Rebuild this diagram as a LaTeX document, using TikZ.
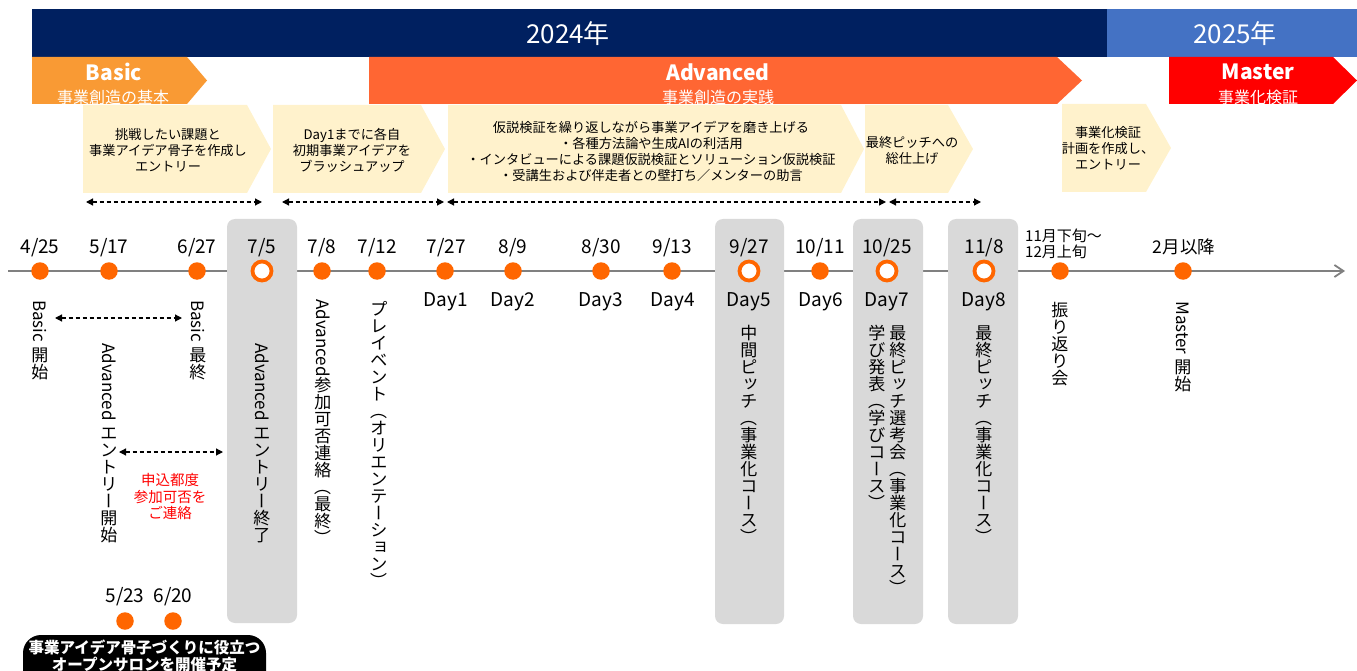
\documentclass[tikz,border=0pt]{standalone}
\usepackage{fontspec}
\setmainfont{Noto Sans CJK JP}
\usepackage{graphicx}
\usetikzlibrary{arrows.meta}
\definecolor{navy}{HTML}{002060}
\definecolor{blu}{HTML}{4472C4}
\definecolor{orgB}{HTML}{F99A34}
\definecolor{orgA}{HTML}{FF6633}
\definecolor{mred}{HTML}{FF0000}
\definecolor{ylw}{HTML}{FFF2CC}
\definecolor{gbox}{HTML}{D9D9D9}
\definecolor{dotc}{HTML}{FF6600}
\definecolor{tlc}{HTML}{808080}
\makeatletter
\def\tate@stop{\tate@stop}
\newcommand\tate[1]{\tate@loop#1\tate@stop}
\def\tate@loop#1{\ifx#1\tate@stop\else\tate@one#1\expandafter\tate@loop\fi}
\def\tate@one#1{%
  \ifx#1ー\tate@side{#1}\else
  \ifx#1（\tate@side{#1}\else
  \ifx#1）\tate@side{#1}\else
  \ifx#1ッ\tate@small{#1}\else
  \ifx#1ョ\tate@small{#1}\else
  \tate@up{#1}\fi\fi\fi\fi\fi}
\def\tate@side#1{\makebox[1em][c]{#1}}
\def\tate@up#1{\rotatebox[origin=c]{90}{\makebox[1em][c]{\rule[-0.12em]{0pt}{1em}#1}}}
\def\tate@small#1{\rotatebox[origin=c]{90}{\makebox[1em][c]{\rule[-0.12em]{0pt}{1em}\hspace*{0.2em}\raisebox{0.12em}{#1}}}}
\makeatother
\begin{document}
\begin{tikzpicture}[x=1pt,y=-1pt,
  datel/.style={font=\fontsize{19}{22}\selectfont, inner sep=0pt, anchor=base},
  vt/.style={rotate=-90, anchor=west, inner sep=0pt, text height=15pt, text depth=2pt, font=\fontsize{17}{20}\selectfont},
  boxtxt/.style={align=center, font=\fontsize{13.2}{16}\selectfont, inner sep=0pt},
  fdot/.style={circle, fill=dotc, minimum size=17.5pt, inner sep=0pt},
  hdot/.style={circle, fill=white, draw=dotc, line width=3.8pt, minimum size=19pt, inner sep=0pt},
  dar/.style={dash pattern=on 4pt off 3pt, line width=1.2pt, {Triangle[length=7pt,width=7pt]}-{Triangle[length=7pt,width=7pt]}},
  ttl/.style={text=white, font=\bfseries\fontsize{21}{24}\selectfont, inner sep=0pt},
  sub/.style={text=white, font=\fontsize{16}{18}\selectfont, inner sep=0pt},
  gray box/.style={fill=gbox, rounded corners=8pt}]
\useasboundingbox (0,0) rectangle (1357,671);
\clip (0,0) rectangle (1357,671);
% year bars
\fill[navy] (32,9) rectangle (1107,57);
\fill[blu] (1107,9) rectangle (1357,57);
\node[text=white, font=\fontsize{26}{30}\selectfont] (y24) at (568,34) {2024年};
\node[text=white, font=\fontsize{26}{30}\selectfont] (y25) at (1235,34) {2025年};
% phase chevrons
\fill[orgB] (32,57) -- (187,57) -- (207,80.5) -- (187,104) -- (32,104) -- cycle;
\fill[orgA] (369,57) -- (1057,57) -- (1082,80.5) -- (1057,104) -- (369,104) -- cycle;
\fill[mred] (1169,57) -- (1333,57) -- (1357,80.5) -- (1333,104) -- (1169,104) -- cycle;
\node[ttl] (pB) at (114,72) {Basic};
\node[sub] (pBs) at (113,97) {事業創造の基本};
\node[ttl] (pA) at (718,72) {Advanced};
\node[sub] (pAs) at (718,97) {事業創造の実践};
\node[ttl] (pM) at (1258,72) {Master};
\node[sub] (pMs) at (1258,97) {事業化検証};
% yellow chevrons
\fill[ylw] (83,105) -- (247,105) -- (271,149) -- (247,193) -- (83,193) -- cycle;
\fill[ylw] (273,105) -- (421,105) -- (445,149) -- (421,193) -- (273,193) -- cycle;
\fill[ylw] (448,105) -- (841,105) -- (864,149) -- (841,193) -- (448,193) -- cycle;
\fill[ylw] (865,105) -- (948,105) -- (973,149) -- (948,193) -- (865,193) -- cycle;
\fill[ylw] (1062,104) -- (1146,104) -- (1171,148) -- (1146,192) -- (1062,192) -- cycle;
\node[boxtxt] (b1) at (168,150) {挑戦したい課題と\\事業アイデア骨子を作成し\\エントリー};
\node[boxtxt] (b2) at (352,150) {Day1までに各自\\初期事業アイデアを\\ブラッシュアップ};
\node[boxtxt] (b3) at (651,151) {仮説検証を繰り返しながら事業アイデアを磨き上げる\\・各種方法論や生成AIの利活用\\・インタビューによる課題仮説検証とソリューション仮説検証\\・受講生および伴走者との壁打ち／メンターの助言};
\node[boxtxt] (b4) at (912,150) {最終ピッチへの\\総仕上げ};
\node[boxtxt] (b5) at (1108,148) {事業化検証\\計画を作成し、\\エントリー};
% dashed range arrows
\coordinate (a1s) at (86,202); \coordinate (a1e) at (262,202);
\coordinate (a2s) at (282,202); \coordinate (a2e) at (444,202);
\coordinate (a3s) at (447,202); \coordinate (a3e) at (886,202);
\coordinate (a4s) at (889,202); \coordinate (a4e) at (981,202);
\draw[dar] (a1s) -- (a1e);
\draw[dar] (a2s) -- (a2e);
\draw[dar] (a3s) -- (a3e);
\draw[dar] (a4s) -- (a4e);
% timeline
\coordinate (tls) at (8,271); \coordinate (tle) at (1345,271);
\draw[tlc, line width=1.8pt, -{Straight Barb[length=9pt,width=12pt]}] (tls) -- (tle);
% gray highlight boxes
\fill[gray box] (227,219) rectangle (297,623);
\fill[gray box] (715,219) rectangle (784,624);
\fill[gray box] (853,219) rectangle (923,624);
\fill[gray box] (948,219) rectangle (1018,624);
% dots
\node[fdot] (d0425) at (40,271) {};
\node[fdot] (d0517) at (109,271) {};
\node[fdot] (d0627) at (197,271) {};
\node[hdot] (d0705) at (262,271) {};
\node[fdot] (d0708) at (322,271) {};
\node[fdot] (d0712) at (377,271) {};
\node[fdot] (d0727) at (445,271) {};
\node[fdot] (d0809) at (513,271) {};
\node[fdot] (d0830) at (601,271) {};
\node[fdot] (d0913) at (672,271) {};
\node[hdot] (d0927) at (749,271) {};
\node[fdot] (d1011) at (820,271) {};
\node[hdot] (d1025) at (887,271) {};
\node[hdot] (d1108) at (984,271) {};
\node[fdot] (d1112) at (1060,271) {};
\node[fdot] (d0200) at (1183,271) {};
% date labels
\node[datel] (l0425) at (40,253) {4/25};
\node[datel] (l0517) at (109,253) {5/17};
\node[datel] (l0627) at (197,253) {6/27};
\node[datel] (l0705) at (262,253) {7/5};
\node[datel] (l0708) at (322,253) {7/8};
\node[datel] (l0712) at (377,253) {7/12};
\node[datel] (l0727) at (446,253) {7/27};
\node[datel] (l0809) at (513,253) {8/9};
\node[datel] (l0830) at (601,253) {8/30};
\node[datel] (l0913) at (672,253) {9/13};
\node[datel] (l0927) at (749,253) {9/27};
\node[datel] (l1011) at (820,253) {10/11};
\node[datel] (l1025) at (887,253) {10/25};
\node[datel] (l1108) at (984,253) {11/8};
\node[anchor=base west, inner sep=0pt, font=\fontsize{15}{17}\selectfont] (l1112a) at (1025,241) {11月下旬～};
\node[anchor=base west, inner sep=0pt, font=\fontsize{15}{17}\selectfont] (l1112b) at (1025,258) {12月上旬};
\node[anchor=base, inner sep=0pt, font=\fontsize{17.5}{20}\selectfont] (l0200) at (1184,253) {2月以降};
% day labels
\node[datel] (day1) at (446,306) {Day1};
\node[datel] (day2) at (513,306) {Day2};
\node[datel] (day3) at (601,306) {Day3};
\node[datel] (day4) at (673,306) {Day4};
\node[datel] (day5) at (749,306) {Day5};
\node[datel] (day6) at (821,306) {Day6};
\node[datel] (day7) at (887,306) {Day7};
\node[datel] (day8) at (984,306) {Day8};
% vertical event texts
\node[vt] (v1) at (40,300) {Basic \tate{開始}};
\node[vt] (v2) at (198,300) {Basic \tate{最終}};
\node[vt] (v3) at (109,343) {Advanced \tate{エントリー開始}};
\node[vt] (v4) at (262,343) {Advanced \tate{エントリー終了}};
\node[vt] (v5) at (323,299) {Advanced\tate{参加可否連絡（最終）}};
\node[vt] (v6) at (379,300) {\tate{プレイベント（オリエンテーション）}};
\node[vt] (v7) at (749,324) {\tate{中間ピッチ（事業化コース）}};
\node[vt] (v8) at (898,324) {\tate{最終ピッチ選考会（事業化コース）}};
\node[vt] (v9) at (877,324) {\tate{学び発表（学びコース）}};
\node[vt] (v10) at (984,324) {\tate{最終ピッチ（事業化コース）}};
\node[vt] (v11) at (1060,301) {\tate{振り返り会}};
\node[vt] (v12) at (1183,301) {Master \tate{開始}};
% range arrows below
\coordinate (a5s) at (55,318); \coordinate (a5e) at (182,318);
\coordinate (a6s) at (119,452); \coordinate (a6e) at (223,452);
\draw[dar] (a5s) -- (a5e);
\draw[dar] (a6s) -- (a6e);
\node[text=mred, align=center, inner sep=0pt, font=\fontsize{14.5}{16.5}\selectfont] (note) at (170,497) {申込都度\\参加可否を\\ご連絡};
% open salon
\node[fdot] (d0523) at (125,621) {};
\node[fdot] (d0620) at (173,621) {};
\node[datel] (l0523) at (125,602) {5/23};
\node[datel] (l0620) at (173,602) {6/20};
\fill[black, rounded corners=18pt] (23,635) rectangle (266,700);
\node[text=white, align=center, inner sep=0pt, font=\bfseries\fontsize{15.5}{17}\selectfont] (salon) at (144.5,656) {事業アイデア骨子づくりに役立つ\\オープンサロンを開催予定};
\end{tikzpicture}
\end{document}
